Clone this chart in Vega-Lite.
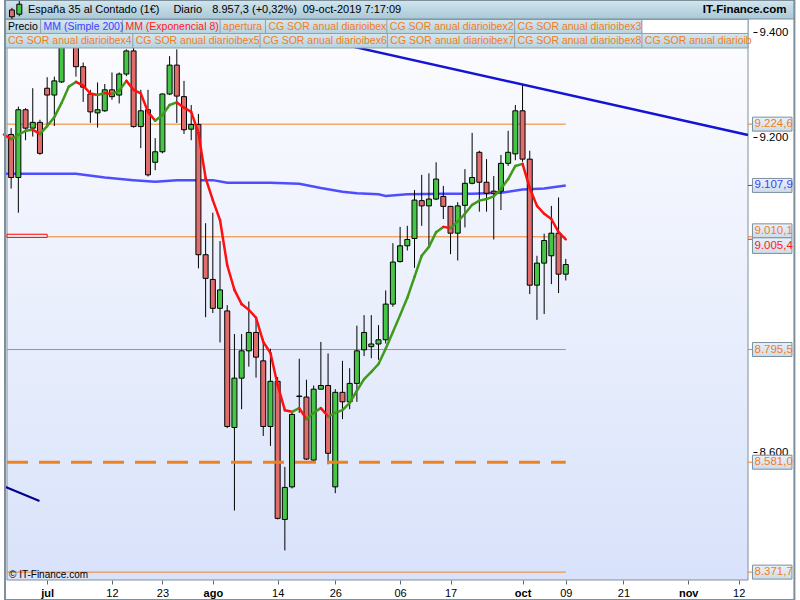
{
"$schema": "https://vega.github.io/schema/vega-lite/v6.json",
"width": 751, "height": 561,
"autosize": {"type": "none"},
"padding": {"left": 2, "top": 19, "right": 47, "bottom": 20},
"background": "#ffffff",
"config": {"view": {"stroke": null}, "font": "Liberation Sans", "axis": {"labelOverlap": false}, "axisX": {"labelOverlap": false}},
"datasets": {
"one": [{"k": 1}],
"candles": [
{"d":"2019-06-24","i":-5,"open":9205,"high":9217,"low":9102,"close":9123},
{"d":"2019-06-25","i":-4,"open":9123,"high":9258,"low":9056,"close":9252},
{"d":"2019-06-26","i":-3,"open":9252,"high":9255,"low":9194,"close":9217},
{"d":"2019-06-27","i":-2,"open":9217,"high":9293,"low":9201,"close":9228},
{"d":"2019-06-28","i":-1,"open":9228,"high":9233,"low":9166,"close":9169},
{"d":"2019-07-01","i":0,"open":9293,"high":9314,"low":9223,"close":9280},
{"d":"2019-07-02","i":1,"open":9280,"high":9315,"low":9221,"close":9307},
{"d":"2019-07-03","i":2,"open":9305,"high":9394,"low":9303,"close":9377},
{"d":"2019-07-04","i":3,"open":9377,"high":9415,"low":9370,"close":9400},
{"d":"2019-07-05","i":4,"open":9385,"high":9395,"low":9315,"close":9334},
{"d":"2019-07-08","i":5,"open":9334,"high":9342,"low":9267,"close":9295},
{"d":"2019-07-09","i":6,"open":9282,"high":9290,"low":9227,"close":9248},
{"d":"2019-07-10","i":7,"open":9246,"high":9304,"low":9218,"close":9252},
{"d":"2019-07-11","i":8,"open":9250,"high":9301,"low":9248,"close":9290},
{"d":"2019-07-12","i":9,"open":9290,"high":9323,"low":9271,"close":9277},
{"d":"2019-07-15","i":10,"open":9280,"high":9323,"low":9264,"close":9320},
{"d":"2019-07-16","i":11,"open":9320,"high":9367,"low":9316,"close":9364},
{"d":"2019-07-17","i":12,"open":9364,"high":9372,"low":9218,"close":9220},
{"d":"2019-07-18","i":13,"open":9220,"high":9290,"low":9179,"close":9250},
{"d":"2019-07-19","i":14,"open":9252,"high":9290,"low":9125,"close":9128},
{"d":"2019-07-22","i":15,"open":9152,"high":9198,"low":9137,"close":9172},
{"d":"2019-07-23","i":16,"open":9172,"high":9283,"low":9169,"close":9282},
{"d":"2019-07-24","i":17,"open":9282,"high":9354,"low":9280,"close":9337},
{"d":"2019-07-25","i":18,"open":9337,"high":9367,"low":9227,"close":9278},
{"d":"2019-07-26","i":19,"open":9277,"high":9307,"low":9206,"close":9214},
{"d":"2019-07-29","i":20,"open":9215,"high":9261,"low":9194,"close":9224},
{"d":"2019-07-30","i":21,"open":9224,"high":9244,"low":8950,"close":8976},
{"d":"2019-07-31","i":22,"open":8976,"high":9036,"low":8857,"close":8931},
{"d":"2019-08-01","i":23,"open":8929,"high":9056,"low":8865,"close":8874},
{"d":"2019-08-02","i":24,"open":8874,"high":9002,"low":8809,"close":8909},
{"d":"2019-08-05","i":25,"open":8869,"high":8880,"low":8646,"close":8649},
{"d":"2019-08-06","i":26,"open":8647,"high":8825,"low":8489,"close":8741},
{"d":"2019-08-07","i":27,"open":8741,"high":8825,"low":8682,"close":8793},
{"d":"2019-08-08","i":28,"open":8793,"high":8887,"low":8763,"close":8828},
{"d":"2019-08-09","i":29,"open":8828,"high":8855,"low":8742,"close":8781},
{"d":"2019-08-12","i":30,"open":8774,"high":8816,"low":8631,"close":8649},
{"d":"2019-08-13","i":31,"open":8649,"high":8797,"low":8612,"close":8735},
{"d":"2019-08-14","i":32,"open":8735,"high":8743,"low":8472,"close":8474},
{"d":"2019-08-15","i":33,"open":8472,"high":8572,"low":8413,"close":8533},
{"d":"2019-08-16","i":34,"open":8534,"high":8677,"low":8531,"close":8672},
{"d":"2019-08-19","i":35,"open":8706,"high":8778,"low":8675,"close":8707},
{"d":"2019-08-20","i":36,"open":8705,"high":8738,"low":8585,"close":8587},
{"d":"2019-08-21","i":37,"open":8585,"high":8727,"low":8580,"close":8720},
{"d":"2019-08-22","i":38,"open":8720,"high":8810,"low":8720,"close":8727},
{"d":"2019-08-23","i":39,"open":8727,"high":8788,"low":8577,"close":8598},
{"d":"2019-08-26","i":40,"open":8534,"high":8720,"low":8522,"close":8714},
{"d":"2019-08-27","i":41,"open":8714,"high":8774,"low":8663,"close":8696},
{"d":"2019-08-28","i":42,"open":8696,"high":8760,"low":8682,"close":8731},
{"d":"2019-08-29","i":43,"open":8731,"high":8841,"low":8696,"close":8793},
{"d":"2019-08-30","i":44,"open":8795,"high":8861,"low":8783,"close":8828},
{"d":"2019-09-02","i":45,"open":8801,"high":8861,"low":8779,"close":8806},
{"d":"2019-09-03","i":46,"open":8806,"high":8842,"low":8776,"close":8814},
{"d":"2019-09-04","i":47,"open":8814,"high":8908,"low":8807,"close":8882},
{"d":"2019-09-05","i":48,"open":8882,"high":8998,"low":8877,"close":8962},
{"d":"2019-09-06","i":49,"open":8963,"high":9029,"low":8961,"close":8993},
{"d":"2019-09-09","i":50,"open":8993,"high":9031,"low":8984,"close":9005},
{"d":"2019-09-10","i":51,"open":9007,"high":9099,"low":8951,"close":9080},
{"d":"2019-09-11","i":52,"open":9079,"high":9128,"low":9031,"close":9069},
{"d":"2019-09-12","i":53,"open":9069,"high":9131,"low":8993,"close":9082},
{"d":"2019-09-13","i":54,"open":9082,"high":9152,"low":9080,"close":9120},
{"d":"2019-09-16","i":55,"open":9087,"high":9107,"low":9044,"close":9068},
{"d":"2019-09-17","i":56,"open":9068,"high":9069,"low":8977,"close":9017},
{"d":"2019-09-18","i":57,"open":9017,"high":9076,"low":8965,"close":9069},
{"d":"2019-09-19","i":58,"open":9070,"high":9139,"low":9028,"close":9112},
{"d":"2019-09-20","i":59,"open":9112,"high":9208,"low":9110,"close":9123},
{"d":"2019-09-23","i":60,"open":9171,"high":9174,"low":9058,"close":9114},
{"d":"2019-09-24","i":61,"open":9114,"high":9158,"low":9058,"close":9093},
{"d":"2019-09-25","i":62,"open":9097,"high":9126,"low":9005,"close":9093},
{"d":"2019-09-26","i":63,"open":9097,"high":9166,"low":9061,"close":9150},
{"d":"2019-09-27","i":64,"open":9150,"high":9212,"low":9145,"close":9171},
{"d":"2019-09-30","i":65,"open":9168,"high":9261,"low":9156,"close":9250},
{"d":"2019-10-01","i":66,"open":9250,"high":9299,"low":9153,"close":9158},
{"d":"2019-10-02","i":67,"open":9158,"high":9174,"low":8901,"close":8918},
{"d":"2019-10-03","i":68,"open":8918,"high":8974,"low":8852,"close":8960},
{"d":"2019-10-04","i":69,"open":8960,"high":9016,"low":8863,"close":9003},
{"d":"2019-10-07","i":70,"open":8974,"high":9069,"low":8920,"close":9017},
{"d":"2019-10-08","i":71,"open":9017,"high":9085,"low":8903,"close":8939},
{"d":"2019-10-09","i":72,"open":8939,"high":8968,"low":8927,"close":8957.3}
],
"ema": [
{"i":-6,"ema":9205},
{"i":-5,"ema":9196},{"i":-4,"ema":9204},{"i":-3,"ema":9212},{"i":-2,"ema":9214},{"i":-1,"ema":9206},
{"i":0,"ema":9221},{"i":1,"ema":9238},{"i":2,"ema":9265},{"i":3,"ema":9296},{"i":4,"ema":9305},
{"i":5,"ema":9298},{"i":6,"ema":9283},{"i":7,"ema":9280},{"i":8,"ema":9284},{"i":9,"ema":9282},
{"i":10,"ema":9288},{"i":11,"ema":9307},{"i":12,"ema":9290},{"i":13,"ema":9283},{"i":14,"ema":9248},
{"i":15,"ema":9231},{"i":16,"ema":9242},{"i":17,"ema":9261},{"i":18,"ema":9266},{"i":19,"ema":9256},
{"i":20,"ema":9248},{"i":21,"ema":9208},{"i":22,"ema":9122},{"i":23,"ema":9080},{"i":24,"ema":9042},
{"i":25,"ema":8956},{"i":26,"ema":8909},{"i":27,"ema":8882},{"i":28,"ema":8871},{"i":29,"ema":8856},
{"i":30,"ema":8810},{"i":31,"ema":8789},{"i":32,"ema":8728},{"i":33,"ema":8680},{"i":34,"ema":8677},
{"i":35,"ema":8684},{"i":36,"ema":8663},{"i":37,"ema":8675},{"i":38,"ema":8684},{"i":39,"ema":8668},
{"i":40,"ema":8675},{"i":41,"ema":8680},{"i":42,"ema":8694},{"i":43,"ema":8717},{"i":44,"ema":8739},
{"i":45,"ema":8753},{"i":46,"ema":8768},{"i":47,"ema":8797},{"i":48,"ema":8829},{"i":49,"ema":8861},
{"i":50,"ema":8894},{"i":51,"ema":8934},{"i":52,"ema":8974},{"i":53,"ema":8991},{"i":54,"ema":9019},
{"i":55,"ema":9029},{"i":56,"ema":9027},{"i":57,"ema":9039},{"i":58,"ema":9054},{"i":59,"ema":9071},
{"i":60,"ema":9079},{"i":61,"ema":9082},{"i":62,"ema":9087},{"i":63,"ema":9101},{"i":64,"ema":9120},
{"i":65,"ema":9145},{"i":66,"ema":9149},{"i":67,"ema":9103},{"i":68,"ema":9069},{"i":69,"ema":9054},
{"i":70,"ema":9044},{"i":71,"ema":9019},{"i":72,"ema":9005.4}
],
"sma": [
{"i":-6,"sma":9130},
{"i":-5,"sma":9130},{"i":4,"sma":9130},{"i":8,"sma":9123},{"i":12,"sma":9118},{"i":15,"sma":9115},
{"i":18,"sma":9118},{"i":23,"sma":9118},{"i":25,"sma":9113},{"i":31,"sma":9113},{"i":35,"sma":9111},
{"i":38,"sma":9103},{"i":41,"sma":9096},{"i":43,"sma":9093},{"i":46,"sma":9091},{"i":47,"sma":9088},
{"i":50,"sma":9091},{"i":55,"sma":9092},{"i":59,"sma":9092},{"i":63,"sma":9094},{"i":66,"sma":9100},
{"i":69,"sma":9102},{"i":72,"sma":9107.9}
],
"levels": [
{"level":9224.6,"name":"CG SOR anual diarioibex"},
{"level":9010.1,"name":"apertura"},
{"level":8795.5,"name":"CG SOR anual diarioibex2"},
{"level":8371.7,"name":"CG SOR anual diarioibex4"}
],
"dashed": [{"level":8581.0,"name":"CG SOR anual diarioibex3"}],
"lastvals": [
{"value":9224.6,"series":"cg"},
{"value":9107.9,"series":"sma"},
{"value":9010.1,"series":"cg"},
{"value":9005.4,"series":"ema"},
{"value":8795.5,"series":"cg"},
{"value":8581.0,"series":"cg"},
{"value":8371.7,"series":"cg"}
],
"trend1": [{"i":25.66,"v":9423.7,"i2":97.3,"v2":9203.9}],
"trend2": [{"i":-5.85,"v":8534.3,"i2":-1.06,"v2":8507.1}]
},
"layer": [
{"data":{"name":"one"},"transform":[{"calculate":"-5.575","as":"x0"},{"calculate":"97.3","as":"x1"},{"calculate":"8356.7","as":"y0"},{"calculate":"9424.8","as":"y1"}],
 "mark": {"type":"rect","fill":{"gradient":"linear","x1":0,"y1":0,"x2":0,"y2":1,"stops":[{"offset":0,"color":"#fdfdff"},{"offset":1,"color":"#d8e2fa"}]},"stroke":"#7d909c","strokeWidth":1},
 "encoding": {
  "x":{"field":"x0","type":"quantitative","scale":{"domain":[-5.575,97.3],"nice":false,"zero":false},
   "axis":{"orient":"bottom","title":null,"domain":false,"grid":false,"ticks":true,"tickSize":4,"tickColor":"#5a6a75","labelFontSize":11,"labelColor":"#000000","labelPadding":3,"labelFlush":false,"labelOverlap":false,"zindex":1,
    "values":[0,5,9,12,16,20,23,29,32,36,40,45,49,52,56,60,66,69,72,76,80,85,89,92,96],
    "labelExpr":"['jul','08','12','17','23','29','ago','09','14','20','26','sep','06','11','17','23','oct','04','09','15','21','28','nov','06','12'][indexof([0,5,9,12,16,20,23,29,32,36,40,45,49,52,56,60,66,69,72,76,80,85,89,92,96], datum.value)]",
    "labelFontWeight":{"condition":{"test":"indexof([0,23,45,66,89], datum.value) >= 0","value":"bold"},"value":"normal"}}},
  "x2":{"field":"x1"},
  "y":{"field":"y0","type":"quantitative","scale":{"domain":[8356.7,9424.8],"nice":false,"zero":false},
   "axis":{"orient":"right","title":null,"domain":false,"grid":false,"ticks":true,"tickSize":4,"tickColor":"#000000","labelFontSize":11.5,"labelColor":"#000000","labelPadding":2,"labelFlush":false,"labelOverlap":false,"zindex":0,"values":[9400,9200,8600],"labelExpr":"replace(format(datum.value, ',.0f'), ',', '.')"}},
  "y2":{"field":"y1"}}},
{"data":{"name":"levels"},"transform":[{"calculate":"-5.575","as":"x0"},{"calculate":"72","as":"x1"}],
 "mark":{"type":"rule","color":"#f5801e","strokeWidth":1},
 "encoding":{"x":{"field":"x0","type":"quantitative"},"x2":{"field":"x1"},"y":{"field":"level","type":"quantitative"}}},
{"data":{"name":"one"},"transform":[{"calculate":"-5.575","as":"x0"},{"calculate":"0","as":"x1"},{"calculate":"9009","as":"y0"},{"calculate":"9015","as":"y1"}],
 "mark":{"type":"rect","fill":"#fdeeee","stroke":"#ff0000","strokeWidth":1},
 "encoding":{"x":{"field":"x0","type":"quantitative"},"x2":{"field":"x1"},"y":{"field":"y0","type":"quantitative"},"y2":{"field":"y1"}}},
{"data":{"name":"sma"},"mark":{"type":"line","color":"#3c3cff","strokeWidth":2.5,"opacity":0.9},
 "encoding":{"x":{"field":"i","type":"quantitative"},"y":{"field":"sma","type":"quantitative"}}},
{"data":{"name":"trend1"},"mark":{"type":"rule","color":"#1414d2","strokeWidth":2.5},
 "encoding":{"x":{"field":"i","type":"quantitative"},"x2":{"field":"i2"},"y":{"field":"v","type":"quantitative"},"y2":{"field":"v2"}}},
{"data":{"name":"trend2"},"mark":{"type":"rule","color":"#00008c","strokeWidth":2},
 "encoding":{"x":{"field":"i","type":"quantitative"},"x2":{"field":"i2"},"y":{"field":"v","type":"quantitative"},"y2":{"field":"v2"}}},
{"data":{"name":"candles"},"mark":{"type":"rule","color":"#000000","strokeWidth":1},
 "encoding":{"x":{"field":"i","type":"quantitative"},"y":{"field":"low","type":"quantitative"},"y2":{"field":"high"}}},
{"data":{"name":"candles"},"mark":{"type":"bar","width":5,"stroke":"#000000","strokeWidth":1},
 "encoding":{"x":{"field":"i","type":"quantitative"},"y":{"field":"open","type":"quantitative"},"y2":{"field":"close"},
  "color":{"condition":{"test":"datum.close >= datum.open","value":"#46c646"},"value":"#e06c6c"}}},
{"data":{"name":"dashed"},"transform":[{"calculate":"-5.575","as":"x0"},{"calculate":"72","as":"x1"}],
 "mark":{"type":"rule","color":"#f0821e","strokeWidth":3,"strokeDash":[21,11]},
 "encoding":{"x":{"field":"x0","type":"quantitative"},"x2":{"field":"x1"},"y":{"field":"level","type":"quantitative"}}},
{"data":{"name":"ema"},
 "transform":[{"window":[{"op":"lead","field":"ema","as":"ema2"},{"op":"lead","field":"i","as":"i2"}],"sort":[{"field":"i","order":"ascending"}]},{"filter":"datum.i2 != null"}],
 "mark":{"type":"rule","strokeWidth":2.5,"strokeCap":"round"},
 "encoding":{"x":{"field":"i","type":"quantitative"},"x2":{"field":"i2"},"y":{"field":"ema","type":"quantitative"},"y2":{"field":"ema2"},
  "color":{"condition":{"test":"datum.ema2 >= datum.ema","value":"#3f9a1c"},"value":"#ff1010"}}},

{"data":{"name":"one"},"transform":[{"calculate":"-5.85","as":"x0"},{"calculate":"82.57","as":"x1"},{"calculate":"9397.2","as":"y0"},{"calculate":"9423.9","as":"y1"}],
 "mark":{"type":"rect","fill":{"gradient":"linear","x1":0,"y1":0,"x2":0,"y2":1,"stops":[{"offset":0,"color":"#d5e7ef"},{"offset":1,"color":"#b7d2df"}]},"stroke":"#8ba2ae","strokeWidth":1},
 "encoding":{"x":{"field":"x0","type":"quantitative"},"x2":{"field":"x1"},"y":{"field":"y0","type":"quantitative"},"y2":{"field":"y1"}}},
{"data":{"name":"one"},"transform":[{"calculate":"82.57","as":"x0"},{"calculate":"97.3","as":"x1"},{"calculate":"9397.2","as":"y0"},{"calculate":"9423.9","as":"y1"}],
 "mark":{"type":"rect","fill":"#ffffff","stroke":"#8ba2ae","strokeWidth":1},
 "encoding":{"x":{"field":"x0","type":"quantitative"},"x2":{"field":"x1"},"y":{"field":"y0","type":"quantitative"},"y2":{"field":"y1"}}},
{"data":{"name":"one"},"transform":[{"calculate":"-5.85","as":"x0"},{"calculate":"97.3","as":"x1"},{"calculate":"9369.6","as":"y0"},{"calculate":"9397.2","as":"y1"}],
 "mark":{"type":"rect","fill":{"gradient":"linear","x1":0,"y1":0,"x2":0,"y2":1,"stops":[{"offset":0,"color":"#d5e7ef"},{"offset":1,"color":"#b7d2df"}]},"stroke":"#8ba2ae","strokeWidth":1},
 "encoding":{"x":{"field":"x0","type":"quantitative"},"x2":{"field":"x1"},"y":{"field":"y0","type":"quantitative"},"y2":{"field":"y1"}}},
{"data":{"name":"one"},"transform":[{"calculate":"[-0.918,10.45,24.01,30.31,47.16,64.9,11.89,29.56,47.23,64.9,82.57]","as":"xs"},{"calculate":"[9397.2,9397.2,9397.2,9397.2,9397.2,9397.2,9369.6,9369.6,9369.6,9369.6,9369.6]","as":"y0s"},{"calculate":"[9423.9,9423.9,9423.9,9423.9,9423.9,9423.9,9397.2,9397.2,9397.2,9397.2,9397.2]","as":"y1s"},{"flatten":["xs","y0s","y1s"]}],
 "mark":{"type":"rule","color":"#8ba2ae","strokeWidth":1},
 "encoding":{"x":{"field":"xs","type":"quantitative"},"y":{"field":"y0s","type":"quantitative"},"y2":{"field":"y1s"}}},
{"data":{"name":"one"},"transform":[
  {"calculate":"['Precio','MM (Simple 200)','MM (Exponencial 8)','apertura','CG SOR anual diarioibex','CG SOR anual diarioibex2','CG SOR anual diarioibex3','CG SOR anual diarioibex4','CG SOR anual diarioibex5','CG SOR anual diarioibex6','CG SOR anual diarioibex7','CG SOR anual diarioibex8','CG SOR anual diarioib']","as":"labs"},
  {"calculate":"[-5.44,-0.507,10.86,24.42,30.72,47.57,65.31,-5.44,12.3,29.97,47.64,65.31,82.98]","as":"xs"},
  {"calculate":"[9410.5,9410.5,9410.5,9410.5,9410.5,9410.5,9410.5,9382.9,9382.9,9382.9,9382.9,9382.9,9382.9]","as":"ys"},
  {"calculate":"['precio','sma','ema','cg','cg','cg','cg','cg','cg','cg','cg','cg','cg']","as":"keys"},
  {"flatten":["labs","xs","ys","keys"]}],
 "mark":{"type":"text","align":"left","baseline":"middle","fontSize":10.5},
 "encoding":{"x":{"field":"xs","type":"quantitative"},"y":{"field":"ys","type":"quantitative"},"text":{"field":"labs","type":"nominal"},
  "color":{"field":"keys","type":"nominal","legend":null,"scale":{"domain":["cg","sma","ema","precio"],"range":["#f07d1d","#4040ff","#ff1a1a","#000000"]}}}},

{"data":{"name":"one"},"transform":[{"calculate":"-5.85","as":"x0"},{"calculate":"103.74","as":"x1"},{"calculate":"9424.8","as":"y0"},{"calculate":"9461","as":"y1"}],
 "mark":{"type":"rect","fill":{"gradient":"linear","x1":0,"y1":0,"x2":0,"y2":1,"stops":[{"offset":0,"color":"#d3e6ee"},{"offset":1,"color":"#a9c8d7"}]},"stroke":"#7d909c","strokeWidth":1},
 "encoding":{"x":{"field":"x0","type":"quantitative"},"x2":{"field":"x1"},"y":{"field":"y0","type":"quantitative"},"y2":{"field":"y1"}}},
{"data":{"name":"one"},"transform":[{"calculate":"[-4.89,-3.87]","as":"xs"},{"calculate":"[9425,9430]","as":"y0s"},{"calculate":"[9446,9459]","as":"y1s"},{"flatten":["xs","y0s","y1s"]}],
 "mark":{"type":"rule","color":"#000000","strokeWidth":1},
 "encoding":{"x":{"field":"xs","type":"quantitative"},"y":{"field":"y0s","type":"quantitative"},"y2":{"field":"y1s"}}},
{"data":{"name":"one"},"transform":[{"calculate":"[-5.23,-4.21]","as":"x0s"},{"calculate":"[-4.55,-3.52]","as":"x1s"},{"calculate":"[9429,9434]","as":"y0s"},{"calculate":"[9442,9453]","as":"y1s"},{"calculate":"['down','up']","as":"dir"},{"flatten":["x0s","x1s","y0s","y1s","dir"]}],
 "mark":{"type":"rect","stroke":"#000000","strokeWidth":1},
 "encoding":{"x":{"field":"x0s","type":"quantitative"},"x2":{"field":"x1s"},"y":{"field":"y0s","type":"quantitative"},"y2":{"field":"y1s"},
  "color":{"condition":{"test":"datum.dir == 'up'","value":"#46c646"},"value":"#e06c6c"}}},
{"data":{"name":"one"},"transform":[
  {"calculate":"['España 35 al Contado (1€)','Diario','8.957,3 (+0,32%)','09-oct-2019 7:17:09']","as":"labs"},
  {"calculate":"[-2.66,17.53,22.92,35.48]","as":"xs"},{"flatten":["labs","xs"]},{"calculate":"9442","as":"ty"}],
 "mark":{"type":"text","align":"left","baseline":"middle","fontSize":11,"color":"#000000"},
 "encoding":{"x":{"field":"xs","type":"quantitative"},"y":{"field":"ty","type":"quantitative"},"text":{"field":"labs","type":"nominal"}}},
{"data":{"name":"one"},"transform":[{"calculate":"102.64","as":"tx"},{"calculate":"9442","as":"ty"}],
 "mark":{"type":"text","text":"IT-Finance.com","align":"right","baseline":"middle","fontSize":11.5,"fontWeight":"bold","color":"#000000"},
 "encoding":{"x":{"field":"tx","type":"quantitative"},"y":{"field":"ty","type":"quantitative"}}},

{"data":{"name":"lastvals"},"transform":[{"calculate":"97.3","as":"t0"},{"calculate":"97.92","as":"t1"}],
 "mark":{"type":"rule","strokeWidth":1},
 "encoding":{"x":{"field":"t0","type":"quantitative"},"x2":{"field":"t1"},"y":{"field":"value","type":"quantitative"},
  "color":{"field":"series","type":"nominal","legend":null,"scale":{"domain":["cg","sma","ema","precio"],"range":["#f07d1d","#4040ff","#ff1a1a","#000000"]}}}},
{"data":{"name":"lastvals"},"transform":[
  {"calculate":"97.92","as":"bx0"},{"calculate":"103.4","as":"bx1"},
  {"calculate":"datum.value == 9010.1 ? datum.value + 24.7 : (datum.value == 9005.4 ? datum.value + 2.8 : datum.value + 13.3)","as":"btop"},
  {"calculate":"datum.value == 9010.1 ? datum.value - 1.9 : (datum.value == 9005.4 ? datum.value - 26.9 : datum.value - 13.3)","as":"bbot"}],
 "mark":{"type":"rect","fill":{"gradient":"linear","x1":0,"y1":0,"x2":0,"y2":1,"stops":[{"offset":0,"color":"#eaf2f9"},{"offset":1,"color":"#cddcea"}]},"stroke":"#7b8f9c","strokeWidth":1},
 "encoding":{"x":{"field":"bx0","type":"quantitative"},"x2":{"field":"bx1"},"y":{"field":"btop","type":"quantitative"},"y2":{"field":"bbot"}}},
{"data":{"name":"lastvals"},"transform":[
  {"calculate":"98.2","as":"tx"},
  {"calculate":"datum.value == 9010.1 ? datum.value + 11.4 : (datum.value == 9005.4 ? datum.value - 12 : datum.value)","as":"ty"},
  {"calculate":"replace(replace(replace(format(datum.value, ',.1f'), ',', '#'), '.', ','), '#', '.')","as":"lab"}],
 "mark":{"type":"text","align":"left","baseline":"middle","fontSize":11.5},
 "encoding":{"x":{"field":"tx","type":"quantitative"},"y":{"field":"ty","type":"quantitative"},"text":{"field":"lab","type":"nominal"},
  "color":{"field":"series","type":"nominal","legend":null,"scale":{"domain":["cg","sma","ema","precio"],"range":["#f07d1d","#4040ff","#ff1a1a","#000000"]}}}},

{"data":{"name":"one"},"transform":[{"calculate":"-5.3","as":"tx"},{"calculate":"8366.2","as":"ty"}],
 "mark":{"type":"text","text":"© IT-Finance.com","align":"left","baseline":"middle","fontSize":10,"color":"#000000"},
 "encoding":{"x":{"field":"tx","type":"quantitative"},"y":{"field":"ty","type":"quantitative"}}},
{"data":{"name":"one"},"transform":[{"calculate":"-5.85","as":"x0"},{"calculate":"103.74","as":"x1"},{"calculate":"8318.6","as":"y0"},{"calculate":"9461","as":"y1"}],
 "mark":{"type":"rect","fillOpacity":0,"stroke":"#7d8f9a","strokeWidth":2},
 "encoding":{"x":{"field":"x0","type":"quantitative"},"x2":{"field":"x1"},"y":{"field":"y0","type":"quantitative"},"y2":{"field":"y1"}}}
]
}
